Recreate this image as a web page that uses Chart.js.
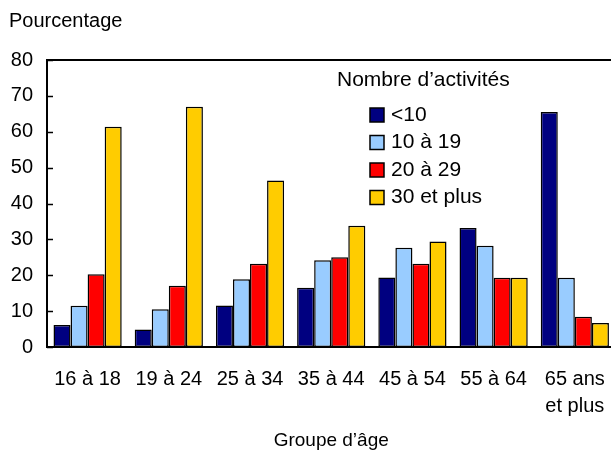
<!DOCTYPE html>
<html>
<head>
<meta charset="utf-8">
<script src="https://cdn.jsdelivr.net/npm/chart.js@4/dist/chart.umd.min.js"></script>
<style>
  html, body { margin: 0; padding: 0; background: #fff; overflow: hidden; }
  #wrap { width: 624px; height: 452px; }
</style>
</head>
<body>
<div id="wrap"><canvas id="c" width="624" height="452"></canvas></div>
<script>
var categories = ["16 à 18", "19 à 24", "25 à 34", "35 à 44", "45 à 54", "55 à 64", ["65 ans", "et plus"]];
var seriesNames = ["<10", "10 à 19", "20 à 29", "30 et plus"];
var under10 = [6.1, 4.9, 11.6, 16.5, 19.4, 33.2, 65.5];
var from10to19 = [11.5, 10.5, 18.9, 24.2, 27.7, 28.2, 19.3];
var from20to29 = [20.3, 17.1, 23.2, 25.0, 23.2, 19.3, 8.4];
var over30 = [61.4, 67.0, 46.4, 33.8, 29.4, 19.3, 6.7];
var yTicks = [0, 10, 20, 30, 40, 50, 60, 70, 80];
var colors = ["#000080", "#99ccff", "#ff0000", "#ffcc00"];

var FONT = "'Liberation Sans', Arial, sans-serif";

function dataset(i, values)
{
    return {
        label: seriesNames[i],
        data: values,
        backgroundColor: colors[i],
        borderColor: "#000",
        borderWidth: 1.5,
        borderSkipped: false,
        barPercentage: 1,
        categoryPercentage: 0.84
    };
}

// axis title on top, legend inside the plot, frame and inward y ticks
var extras = {
    id: "extras",
    afterDraw: function(chart)
    {
        var ctx = chart.ctx;
        var a = chart.chartArea;
        var y = chart.scales.y;
        ctx.save();
        ctx.fillStyle = "#000";
        ctx.textBaseline = "middle";
        ctx.textAlign = "left";
        ctx.font = "20px " + FONT;
        ctx.fillText("Pourcentage", 9, 21);
        ctx.font = "21px " + FONT;
        ctx.fillText("Nombre d\u2019activités", 337, 80);
        chart.data.datasets.forEach(function(ds, i) {
            var ly = 115 + i * 27.5;
            ctx.fillStyle = ds.backgroundColor;
            ctx.fillRect(370, ly - 7, 14, 14);
            ctx.lineWidth = 1.5;
            ctx.strokeStyle = "#000";
            ctx.strokeRect(370, ly - 7, 14, 14);
            ctx.fillStyle = "#000";
            ctx.fillText(ds.label, 391, ly);
        });
        ctx.lineWidth = 2;
        ctx.strokeStyle = "#000";
        ctx.strokeRect(a.left, a.top, a.right - a.left, a.bottom - a.top);
        ctx.lineWidth = 1.5;
        yTicks.forEach(function(v) {
            var py = Math.round(y.getPixelForValue(v)) + 0.5;
            ctx.beginPath();
            ctx.moveTo(a.left, py);
            ctx.lineTo(a.left + 6, py);
            ctx.stroke();
        });
        ctx.restore();
    }
};

new Chart(document.getElementById("c"), {
    type: "bar",
    data: {
        labels: categories,
        datasets: [dataset(0, under10), dataset(1, from10to19), dataset(2, from20to29), dataset(3, over30)]
    },
    options: {
        responsive: false,
        animation: false,
        layout: { padding: { top: 60, right: 2, left: 0, bottom: 0 } },
        plugins: { legend: { display: false }, tooltip: { enabled: false } },
        scales: {
            x: {
                grid: { display: false, drawTicks: false },
                border: { display: false },
                ticks: { color: "#000", font: { family: FONT, size: 20, lineHeight: 1.35 }, padding: 19, maxRotation: 0, autoSkip: false },
                title: { display: true, text: "Groupe d\u2019âge", color: "#000", font: { family: FONT, size: 19 }, padding: { top: 0, bottom: 0 } },
                afterFit: function(s) { s.height = 105; }
            },
            y: {
                min: 0,
                max: 80,
                afterBuildTicks: function(s) { s.ticks = yTicks.map(function(v) { return { value: v }; }); },
                grid: { display: false, drawTicks: false },
                border: { display: false },
                ticks: { color: "#000", font: { family: FONT, size: 20 }, padding: 14 },
                afterFit: function(s) { s.width = 47; }
            }
        }
    },
    plugins: [extras]
});
</script>
</body>
</html>
